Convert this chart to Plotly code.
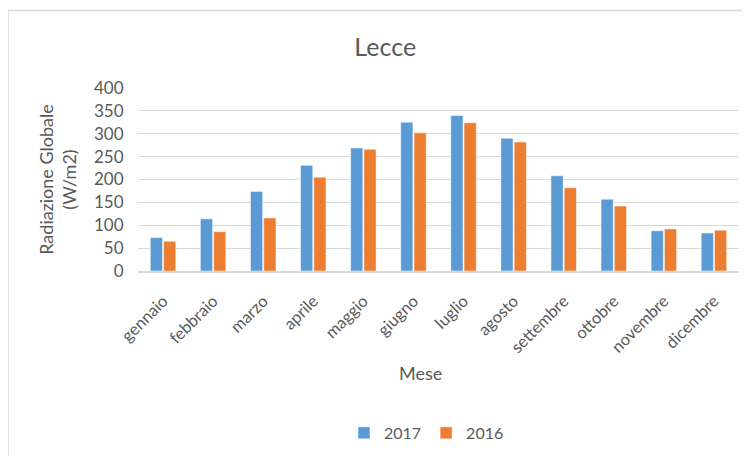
import plotly.graph_objects as go

mesi = ['gennaio', 'febbraio', 'marzo', 'aprile', 'maggio', 'giugno',
        'luglio', 'agosto', 'settembre', 'ottobre', 'novembre', 'dicembre']
rad_2017 = [73, 114, 174, 231, 269, 325, 340, 290, 208, 157, 88, 83]
rad_2016 = [65, 86, 116, 205, 266, 302, 324, 282, 182, 142, 92, 89]

grigio = '#595959'
font = 'Lato, Calibri, sans-serif'

fig = go.Figure()
fig.add_trace(go.Bar(x=mesi, y=rad_2017, name='2017', marker_color='#5B9BD5',
                     marker_line=dict(color='white', width=0.5)))
fig.add_trace(go.Bar(x=mesi, y=rad_2016, name='2016', marker_color='#ED7D31',
                     marker_line=dict(color='white', width=0.5)))

# la pagina ha un margine di 8px, quindi l'area del grafico va spostata
fig.update_layout(
    width=750, height=456,
    paper_bgcolor='white', plot_bgcolor='white',
    margin=dict(l=130, r=19, t=80, b=193, autoexpand=False),
    font=dict(family=font, color=grigio, size=13),
    title=dict(text='Lecce', x=0.503, xanchor='center', y=0.914, yanchor='middle',
               font=dict(size=25, color=grigio)),
    barmode='group', bargap=0.47, bargroupgap=0.08,
    legend=dict(orientation='h', x=0.48, xanchor='center', y=-0.885, yanchor='middle',
                font=dict(size=16, color=grigio), traceorder='normal'),
    xaxis=dict(tickangle=-45, showline=True, linecolor='#D9D9D9', linewidth=2,
               ticks='outside', ticklen=12, tickcolor='rgba(0,0,0,0)',
               automargin=False, tickfont=dict(size=16.5, color=grigio)),
    yaxis=dict(range=[0, 400], dtick=50, gridcolor='#D9D9D9', gridwidth=1,
               zeroline=False, ticks='outside', ticklen=10, tickcolor='rgba(0,0,0,0)',
               automargin=False, tickfont=dict(size=17, color=grigio),
               title=dict(text='Radiazione Globale<br>(W/m2)',
                          font=dict(size=18, color=grigio), standoff=12)),
)

# titolo asse x (non centrato sull'area del grafico)
fig.add_annotation(text='Mese', xref='paper', yref='paper', x=0.47, y=-0.555,
                   xanchor='center', yanchor='middle', showarrow=False,
                   font=dict(size=18, color=grigio))

# cornice del grafico
fig.add_shape(type='rect', xref='paper', yref='paper',
              x0=-0.2163, x1=1.5, y0=-2, y1=1.424,
              line=dict(color='#D9D9D9', width=1.5), layer='below')

fig.write_html('out.html')
